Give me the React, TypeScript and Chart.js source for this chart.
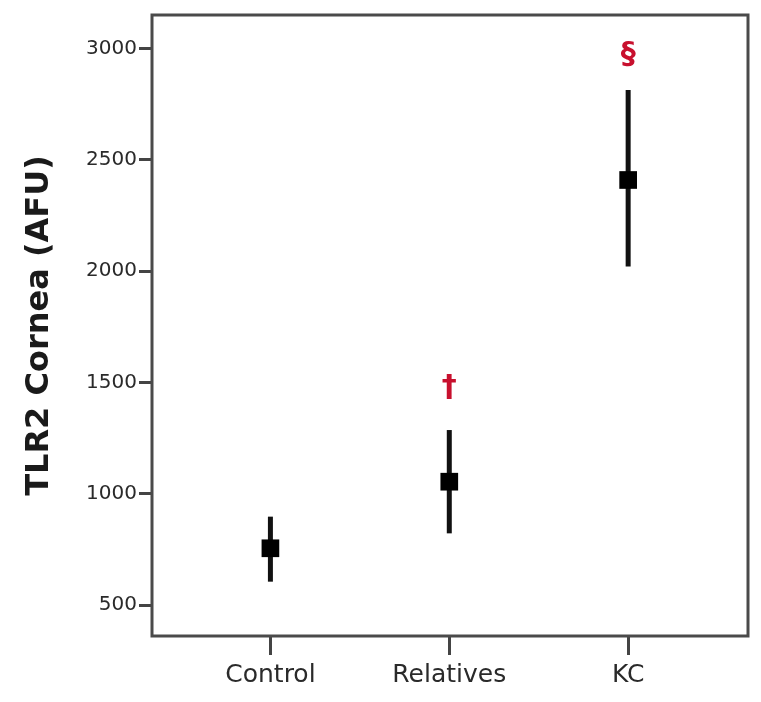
import React, { useEffect, useRef } from "react";
import { Chart, registerables } from "chart.js";

Chart.register(...registerables);

const categories = ["Control", "Relatives", "KC"];
const means = [755, 1054, 2409];
const lowers = [605, 822, 2020];
const uppers = [897, 1286, 2813];
const markTexts = ["", "†", "§"];
const markValues = [null, 1475, 2970];
const yTicks = [500, 1000, 1500, 2000, 2500, 3000];

const errorBarPlugin = {
  id: "errorBars",
  beforeDatasetsDraw(chart: any) {
    const { ctx, scales } = chart;
    const x = scales.x;
    const y = scales.y;
    ctx.save();
    ctx.strokeStyle = "#111";
    ctx.lineWidth = 5;
    ctx.lineCap = "butt";
    for (let i = 0; i < categories.length; i++) {
      const px = x.getPixelForValue(i + 1);
      ctx.beginPath();
      ctx.moveTo(px, y.getPixelForValue(lowers[i]));
      ctx.lineTo(px, y.getPixelForValue(uppers[i]));
      ctx.stroke();
    }
    ctx.restore();
  },
  afterDatasetsDraw(chart: any) {
    const { ctx, scales } = chart;
    const x = scales.x;
    const y = scales.y;
    ctx.save();
    ctx.fillStyle = "#c8102e";
    ctx.font = "bold 30px 'DejaVu Sans'";
    ctx.textAlign = "center";
    ctx.textBaseline = "middle";
    for (let i = 0; i < categories.length; i++) {
      const v = markValues[i];
      if (v == null || !markTexts[i]) continue;
      ctx.fillText(markTexts[i], x.getPixelForValue(i + 1), y.getPixelForValue(v));
    }
    ctx.restore();
  },
  afterDraw(chart: any) {
    const { ctx, chartArea } = chart;
    ctx.save();
    ctx.strokeStyle = "#4a4a4a";
    ctx.lineWidth = 3;
    ctx.strokeRect(chartArea.left, chartArea.top, chartArea.right - chartArea.left, chartArea.bottom - chartArea.top);
    ctx.restore();
  },
};

export default function App() {
  const ref = useRef<HTMLCanvasElement | null>(null);
  useEffect(() => {
    document.body.style.margin = "0";
    if (!ref.current) return;
    const chart = new Chart(ref.current, {
      type: "scatter",
      data: {
        datasets: [
          {
            data: means.map((m, i) => ({ x: i + 1, y: m })),
            pointStyle: "rect",
            pointRadius: 12.5,
            pointHoverRadius: 12.5,
            backgroundColor: "#000",
            borderWidth: 0,
          },
        ],
      },
      options: {
        animation: false,
        responsive: false,
        events: [],
        layout: { padding: { left: 0, top: 15, right: 13, bottom: 0 } },
        plugins: { legend: { display: false }, tooltip: { enabled: false } },
        scales: {
          x: {
            type: "linear",
            min: 0.338,
            max: 3.67,
            afterBuildTicks: (s: any) => {
              s.ticks = categories.map((_, i) => ({ value: i + 1 }));
            },
            afterFit: (s: any) => {
              s.height = 66;
            },
            border: { display: false },
            grid: {
              drawOnChartArea: false,
              drawTicks: true,
              tickLength: 19,
              color: "#444",
              lineWidth: 3,
            },
            ticks: {
              padding: 5,
              color: "#2a2a2a",
              font: { family: "'DejaVu Sans'", size: 25 },
              maxRotation: 0,
              autoSkip: false,
              callback: (v: any) => categories[Math.round(Number(v)) - 1] ?? "",
            },
          },
          y: {
            min: 361,
            max: 3150,
            afterBuildTicks: (s: any) => {
              s.ticks = yTicks.map((v) => ({ value: v }));
            },
            afterFit: (s: any) => {
              s.width = 152;
            },
            border: { display: false },
            grid: {
              drawOnChartArea: false,
              drawTicks: true,
              tickLength: 13,
              color: "#444",
              lineWidth: 3,
            },
            ticks: {
              padding: 2,
              color: "#2a2a2a",
              font: { family: "'DejaVu Sans'", size: 20 },
              autoSkip: false,
              callback: (v: any) => String(v),
            },
            title: {
              display: true,
              text: "TLR2 Cornea (AFU)",
              color: "#1a1a1a",
              font: { family: "'DejaVu Sans'", size: 32, weight: "bold" },
              padding: { top: 20, bottom: 0 },
            },
          },
        },
      },
      plugins: [errorBarPlugin],
    });
    return () => chart.destroy();
  }, []);
  return (
    <div style={{ width: 761, height: 702 }}>
      <canvas ref={ref} width={761} height={702} style={{ display: "block" }} />
    </div>
  );
}
